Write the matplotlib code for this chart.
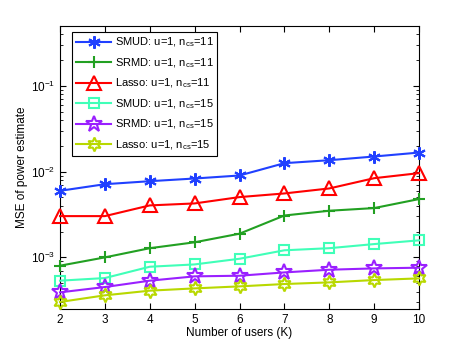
import matplotlib.pyplot as plt
import numpy as np

plt.rcParams['font.family'] = ['Liberation Sans', 'DejaVu Sans']
plt.rcParams['mathtext.fontset'] = 'custom'
plt.rcParams['mathtext.rm'] = 'Liberation Sans'

# -------------------------------
# Data
# -------------------------------
users = [2, 3, 4, 5, 6, 7, 8, 9, 10]

smud_11 = [0.00598, 0.00714, 0.00774, 0.00832, 0.00902, 0.01256, 0.0136, 0.01502, 0.0167]
srmd_11 = [0.00080, 0.00100, 0.00128, 0.00150, 0.00189, 0.00308, 0.00350, 0.00376, 0.00479]
lasso_11 = [0.00303, 0.00303, 0.00404, 0.00426, 0.00505, 0.00557, 0.00637, 0.00839, 0.00961]
smud_15 = [0.000535, 0.000574, 0.000778, 0.000828, 0.000964, 0.00121, 0.00128, 0.00143, 0.00158]
srmd_15 = [0.000391, 0.000451, 0.000535, 0.000601, 0.000611, 0.000668, 0.000718, 0.000744, 0.000758]
lasso_15 = [0.000302, 0.000361, 0.000409, 0.000435, 0.000459, 0.000489, 0.000511, 0.000544, 0.000569]

labels = [
    r'SMUD: u=1, n$_{\rm cs}$=11',
    r'SRMD: u=1, n$_{\rm cs}$=11',
    r'Lasso: u=1, n$_{\rm cs}$=11',
    r'SMUD: u=1, n$_{\rm cs}$=15',
    r'SRMD: u=1, n$_{\rm cs}$=15',
    r'Lasso: u=1, n$_{\rm cs}$=15',
]

# -------------------------------
# Plot
# -------------------------------
fig = plt.figure(figsize=(4.63, 3.49), dpi=100)
ax = fig.add_axes([0.1296, 0.1146, 0.7754, 0.8109])

styles = [
    (smud_11, '#2040ff', (6, 2, 0), 'full', 9),
    (srmd_11, '#22a022', '+', 'full', 9),
    (lasso_11, '#ff0000', '^', 'none', 10),
    (smud_15, '#40ffb8', 's', 'none', 7),
    (srmd_15, '#9a20ff', '*', 'none', 12),
    (lasso_15, '#b8d800', (6, 1, 0), 'none', 10),
]

for (vals, col, mk, fill, size), lab in zip(styles, labels):
    ax.plot(users, vals, color=col, marker=mk, markersize=size, lw=1.5,
            mew=1.5, mfc='none' if fill == 'none' else col, mec=col,
            label=lab, clip_on=False, zorder=3)

ax.set_yscale('log')
ax.set_xlim(2, 10)
ax.set_ylim(2.5e-4, 0.5)
ax.set_xticks(users)
ax.set_yticks([1e-3, 1e-2, 1e-1])

ax.tick_params(which='both', direction='in', top=True, right=True, labelsize=8.5)
ax.tick_params(which='major', length=4)
ax.tick_params(which='minor', length=2)
for s in ax.spines.values():
    s.set_linewidth(0.8)

ax.set_xlabel('Number of users (K)', fontsize=8.5, labelpad=1)
ax.set_ylabel('MSE of power estimate', fontsize=8.5, labelpad=2)

leg = ax.legend(loc='upper left', bbox_to_anchor=(0.033, 0.979), fontsize=8,
                fancybox=False, edgecolor='black', framealpha=1,
                handlelength=3.2, labelspacing=0.62, borderpad=0.35,
                handletextpad=0.3, borderaxespad=0)
leg.get_frame().set_linewidth(0.8)

fig.savefig('out.png', dpi=100)
